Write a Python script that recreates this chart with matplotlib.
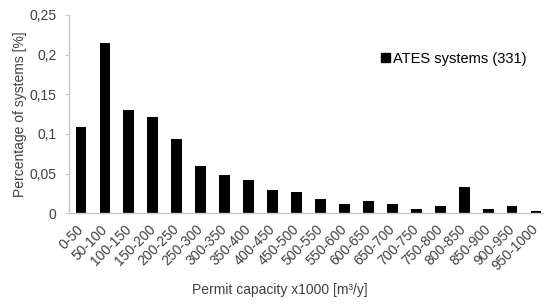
import matplotlib
matplotlib.use("Agg")
import matplotlib.pyplot as plt
from matplotlib.patches import Patch

plt.rcParams['font.family'] = ['Liberation Sans', 'DejaVu Sans']

categories = ["0-50", "50-100", "100-150", "150-200", "200-250", "250-300",
              "300-350", "350-400", "400-450", "450-500", "500-550", "550-600",
              "600-650", "650-700", "700-750", "750-800", "800-850", "850-900",
              "900-950", "950-1000"]
values = [0.109, 0.215, 0.130, 0.121, 0.094, 0.060, 0.048, 0.042, 0.030, 0.027,
          0.018, 0.012, 0.015, 0.012, 0.006, 0.009, 0.033, 0.006, 0.009, 0.003]
yticks = [0, 0.05, 0.1, 0.15, 0.2, 0.25]
ytick_labels = ["0", "0,05", "0,1", "0,15", "0,2", "0,25"]

fig = plt.figure(figsize=(5.44, 3.04), dpi=100)
ax = fig.add_axes([69/544, 1 - 213.3/304, (548 - 69)/544, (213.3 - 15)/304])

x = list(range(len(categories)))
ax.bar(x, values, width=0.45, color="black")
ax.set_xlim(-0.5, len(categories) - 0.5)
ax.set_ylim(0, 0.25)
ax.set_yticks(yticks)
ax.set_yticklabels(ytick_labels, fontsize=10, color="#404040")
ax.set_xticks(x)
ax.set_xticklabels(categories, rotation=45, ha="right", va="center",
                   rotation_mode="anchor", fontsize=10, color="#404040")
for s in ["top", "right"]:
    ax.spines[s].set_visible(False)
for s in ["left", "bottom"]:
    ax.spines[s].set_color("#c8c8c8")
    ax.spines[s].set_linewidth(1.0)
ax.tick_params(axis="y", length=3, direction="out", color="#c8c8c8", pad=6)
ax.tick_params(axis="x", length=0, pad=10)

ax.set_ylabel("Percentage of systems [%]", fontsize=10, color="#404040")
ax.yaxis.set_label_coords(-0.088, 0.5)
fig.text(280/544, 1 - 290/304, "Permit capacity x1000 [m\u00b3/y]", ha="center",
         va="center", fontsize=10, color="#404040")

handle = Patch(facecolor="black", edgecolor="black")
ax.legend([handle], ["ATES systems (331)"], loc="center left",
          bbox_to_anchor=((381 - 69)/479, (213.3 - 59)/198.3), frameon=False,
          fontsize=10.5, handlelength=0.6, handleheight=0.6, handletextpad=0.2,
          borderaxespad=0, borderpad=0)

fig.savefig("out.png", dpi=100)
